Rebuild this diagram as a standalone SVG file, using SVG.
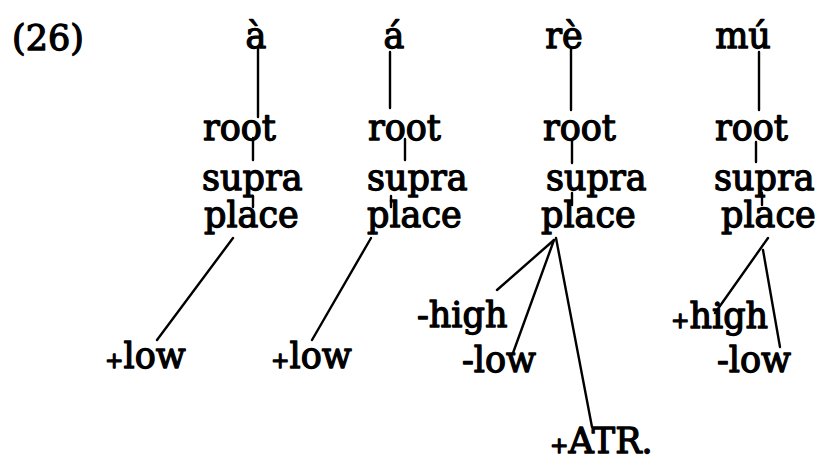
<svg xmlns="http://www.w3.org/2000/svg" width="816" height="464" viewBox="0 0 816 464">
<style>
text{font-family:"DejaVu Serif","Liberation Serif",serif;font-size:35px;fill:#000;stroke:#000;stroke-width:1.3;stroke-linejoin:round}
.pl{font-size:22px}
#connectors line{stroke:#000;stroke-width:2.4;stroke-linecap:round}
</style>
<rect width="816" height="464" fill="#fff"/>
<g id="label"><text x="12" y="50">(26)</text></g>
<g id="col1">
<g id="a1"><text x="256" y="48" text-anchor="middle">à</text></g>
<g id="root1"><text x="203" y="140">root</text></g>
<g id="supra1"><text x="202" y="190">supra</text></g>
<g id="place1"><text x="204" y="227">place</text></g>
<g id="low1"><text x="105" y="368"><tspan class="pl">+</tspan>low</text></g>
</g>
<g id="col2">
<g id="a2"><text x="394" y="48" text-anchor="middle">á</text></g>
<g id="root2"><text x="368" y="140">root</text></g>
<g id="supra2"><text x="367" y="190">supra</text></g>
<g id="place2"><text x="367" y="227">place</text></g>
<g id="low2"><text x="271" y="368"><tspan class="pl">+</tspan>low</text></g>
</g>
<g id="col3">
<g id="re"><text x="564" y="48" text-anchor="middle">rè</text></g>
<g id="root3"><text x="543" y="140">root</text></g>
<g id="supra3"><text x="546" y="190">supra</text></g>
<g id="place3"><text x="541" y="227">place</text></g>
<g id="high3"><text x="417" y="327">-high</text></g>
<g id="low3"><text x="462" y="372">-low</text></g>
<g id="atr"><text x="550" y="453"><tspan class="pl">+</tspan>ATR.</text></g>
</g>
<g id="col4">
<g id="mu"><text x="743" y="48" text-anchor="middle">mú</text></g>
<g id="root4"><text x="715" y="140">root</text></g>
<g id="supra4"><text x="714" y="190">supra</text></g>
<g id="place4"><text x="721" y="227">place</text></g>
<g id="high4"><text x="671" y="328"><tspan class="pl">+</tspan>high</text></g>
<g id="low4"><text x="717" y="372">-low</text></g>
</g>
<g id="connectors">
<line x1="258" y1="48" x2="258" y2="117"/>
<line x1="253" y1="138" x2="253" y2="160"/>
<line x1="253" y1="196" x2="253" y2="207"/>
<line x1="233" y1="238" x2="157" y2="340"/>
<line x1="390" y1="52" x2="390" y2="108"/>
<line x1="405" y1="139" x2="405" y2="160"/>
<line x1="391" y1="196" x2="391" y2="207"/>
<line x1="371" y1="238" x2="312" y2="340"/>
<line x1="571" y1="48" x2="571" y2="110"/>
<line x1="572" y1="140" x2="572" y2="163"/>
<line x1="572" y1="193" x2="572" y2="205"/>
<line x1="554" y1="240" x2="497" y2="290"/>
<line x1="554" y1="240" x2="513" y2="353"/>
<line x1="556" y1="238" x2="592" y2="427"/>
<line x1="759" y1="52" x2="759" y2="110"/>
<line x1="756" y1="142" x2="756" y2="162"/>
<line x1="762" y1="193" x2="762" y2="205"/>
<line x1="768" y1="238" x2="715" y2="313"/>
<line x1="763" y1="250" x2="780" y2="347"/>
</g>
</svg>
